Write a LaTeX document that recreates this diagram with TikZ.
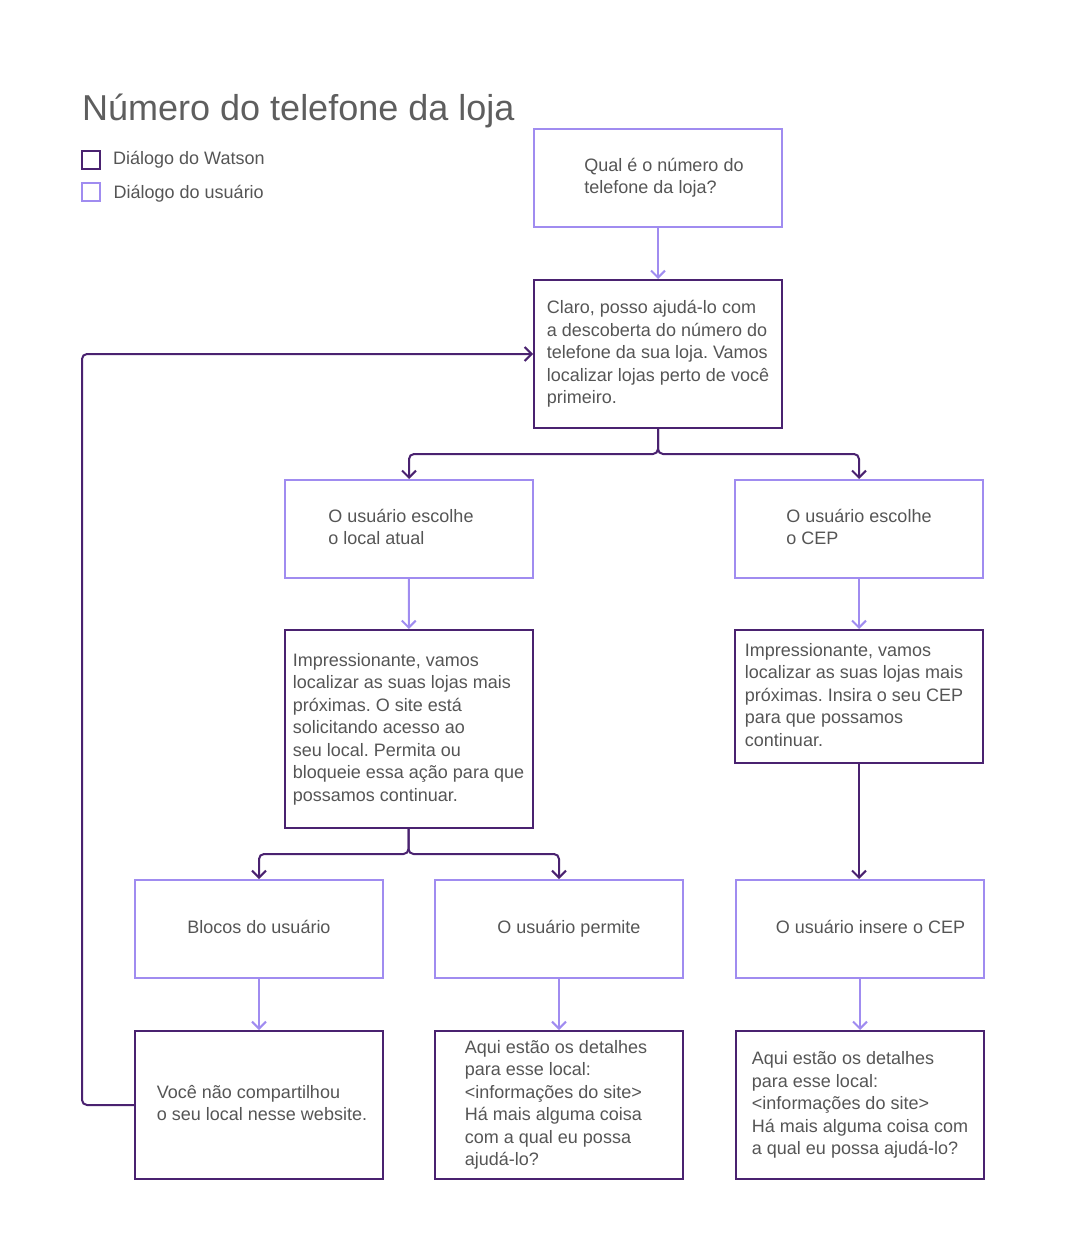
\documentclass[tikz,border=0pt]{standalone}
\usepackage{fontspec}
\setmainfont{Liberation Sans}
\usetikzlibrary{arrows.meta}

\definecolor{watson}{HTML}{4A2270}
\definecolor{usuario}{HTML}{A08CF0}
\definecolor{texto}{HTML}{555555}

% lines of a box, moved sideways by half of the optional padding
\newcommand{\msglines}[2][0pt]{\hspace*{#1}\begin{tabular}{@{}l@{}}#2\end{tabular}}

\begin{document}
\begin{tikzpicture}[x=1pt,y=-1pt,
		every node/.style={text=texto, font=\fontsize{18}{22.5}\selectfont\frenchspacing},
		wbox/.style={draw=watson, line width=2pt, minimum width=248pt, inner sep=0pt},
		ubox/.style={draw=usuario, line width=2pt, minimum width=248pt, minimum height=98pt, inner sep=0pt},
		wline/.style={draw=watson, line width=2pt, rounded corners=5pt, -{Straight Barb[length=7pt,width=14pt]}},
		uline/.style={draw=usuario, line width=2pt, -{Straight Barb[length=7pt,width=14pt]}}]

		\useasboundingbox (0,0) rectangle (1083,1257);

		\node [anchor=base west, inner sep=0pt, text=texto!95!white, font=\fontsize{36}{40}\selectfont] (TITLE) at (82,121) {Número do telefone da loja};
		\node [draw=watson, line width=2pt, minimum size=18pt, inner sep=0pt] (KEYW) at (91,160) {};
		\node [draw=usuario, line width=2pt, minimum size=18pt, inner sep=0pt] (KEYU) at (91,192.5) {};
		\node [anchor=base west, inner sep=0pt] (KEYWTEXT) at (113,165) {Diálogo do Watson};
		\node [anchor=base west, inner sep=0pt] (KEYUTEXT) at (113.5,199) {Diálogo do usuário};

		\node [ubox] (QUESTION) at (658,178) {\msglines[12pt]{Qual é o número do\\telefone da loja?}};
		\node [wbox, minimum height=148pt] (GREETING) at (658,354) {\msglines{Claro, posso ajudá-lo com\\a descoberta do número do\\telefone da sua loja. Vamos\\localizar lojas perto de você\\primeiro.}};

		\node [ubox] (CURRENT) at (409,529) {\msglines[-16pt]{O usuário escolhe\\o local atual}};
		\node [ubox] (CEPCHOICE) at (859,529) {\msglines{O usuário escolhe\\o CEP}};

		\node [wbox, minimum height=198pt] (ACCESS) at (408.5,729) {\msglines{Impressionante, vamos\\localizar as suas lojas mais\\próximas. O site está\\solicitando acesso ao\\seu local. Permita ou\\bloqueie essa ação para que\\possamos continuar.}};
		\node [wbox, minimum height=133pt] (ASKCEP) at (859,696.5) {\msglines[-10pt]{Impressionante, vamos\\localizar as suas lojas mais\\próximas. Insira o seu CEP\\para que possamos\\continuar.}};

		\node [ubox] (BLOCKS) at (259,929) {\msglines{Blocos do usuário}};
		\node [ubox] (ALLOWS) at (559,929) {\msglines[20pt]{O usuário permite}};
		\node [ubox] (ENTERS) at (860,929) {\msglines[21pt]{O usuário insere o CEP}};

		\node [wbox, minimum height=148pt] (NOSHARE) at (259,1105) {\msglines[6pt]{Você não compartilhou\\o seu local nesse website.}};
		\node [wbox, minimum height=148pt] (DETAILS) at (559,1105) {\msglines[-6pt]{Aqui estão os detalhes\\para esse local:\\<informações do site>\\Há mais alguma coisa\\com a qual eu possa\\ajudá-lo?}};
		\node [wbox, minimum height=148pt] (DETAILSCEP) at (860,1105) {\msglines{Aqui estão os detalhes\\para esse local:\\<informações do site>\\Há mais alguma coisa com\\a qual eu possa ajudá-lo?}};


		\draw [uline] (QUESTION) -- (GREETING);
		\draw [wline] (GREETING.south) -- ++(0,25) -| (CURRENT.north);
		\draw [wline] (GREETING.south) -- ++(0,25) -| (CEPCHOICE.north);

		\draw [uline] (CURRENT) -- (ACCESS);
		\draw [uline] (CEPCHOICE) -- (ASKCEP);

		\draw [wline] (ACCESS.south) -- ++(0,25) -| (BLOCKS.north);
		\draw [wline] (ACCESS.south) -- ++(0,25) -| (ALLOWS.north);
		\draw [wline] (ASKCEP.south) -- (ASKCEP.south |- ENTERS.north);

		\draw [uline] (BLOCKS) -- (NOSHARE);
		\draw [uline] (ALLOWS) -- (DETAILS);
		\draw [uline] (ENTERS) -- (DETAILSCEP);

		\draw [wline] (NOSHARE.west) -- ++(-52,0) |- (GREETING.west);

	\end{tikzpicture}
\end{document}
